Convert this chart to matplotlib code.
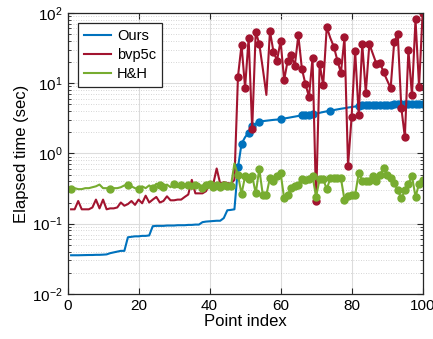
#!/usr/bin/env python
# coding=utf-8
"""
Elapsed time per point index for three solvers (log scale)
"""

import numpy as np
import matplotlib
matplotlib.use('Agg')
import matplotlib.pyplot as plt
from matplotlib.ticker import LogLocator, NullFormatter

#  Point indices
idx = np.arange(1, 101)

#  Elapsed time in seconds
t_ours = [0.0355, 0.0355, 0.0355, 0.0356, 0.0357, 0.0358, 0.0358, 0.036,
          0.036, 0.0362, 0.0365, 0.038, 0.039, 0.040, 0.041, 0.041,
          0.064, 0.065, 0.066, 0.066, 0.067, 0.067, 0.068, 0.092,
          0.093, 0.093, 0.093, 0.094, 0.094, 0.094, 0.095, 0.095,
          0.095, 0.096, 0.096, 0.097, 0.097, 0.105, 0.107, 0.108,
          0.109, 0.11, 0.11, 0.12, 0.155, 0.157, 0.16, 0.63,
          1.37, 1.7, 1.98, 2.46, 2.65, 2.84, 2.88, 2.92,
          2.96, 3.0, 3.03, 3.07, 3.14, 3.2, 3.27, 3.34,
          3.41, 3.48, 3.52, 3.55, 3.58, 3.68, 3.78, 3.88,
          3.97, 4.06, 4.14, 4.23, 4.32, 4.4, 4.49, 4.57,
          4.65, 4.74, 4.85, 4.87, 4.88, 4.9, 4.91, 4.92,
          4.93, 4.95, 4.96, 4.97, 4.98, 5.0, 5.01, 5.02,
          5.04, 5.05, 5.07, 5.1]

t_bvp5c = [0.16, 0.16, 0.21, 0.16, 0.16, 0.16, 0.17, 0.22,
           0.165, 0.22, 0.16, 0.165, 0.165, 0.17, 0.2, 0.18,
           0.19, 0.21, 0.185, 0.22, 0.195, 0.25, 0.2, 0.22,
           0.24, 0.2, 0.21, 0.245, 0.215, 0.215, 0.22, 0.22,
           0.24, 0.26, 0.42, 0.27, 0.27, 0.27, 0.29, 0.36,
           0.36, 0.61, 0.37, 0.39, 0.38, 0.37, 0.42, 12.4,
           35.0, 8.6, 44.0, 2.2, 54.0, 36.0, 16.0, 6.8,
           55.0, 28.0, 21.0, 40.0, 11.0, 21.0, 25.0, 17.6,
           48.0, 16.0, 9.7, 6.4, 23.0, 0.21, 19.0, 9.3,
           63.0, 44.0, 33.0, 21.0, 14.0, 45.0, 0.67, 3.3,
           29.0, 3.5, 36.0, 7.3, 36.0, 26.0, 18.8, 19.6,
           14.3, 11.0, 8.5, 38.6, 50.0, 4.5, 1.7, 29.7,
           6.7, 81.0, 8.9, 98.0]

t_hh = [0.31, 0.32, 0.31, 0.31, 0.32, 0.32, 0.33, 0.34,
        0.36, 0.32, 0.32, 0.31, 0.32, 0.32, 0.33, 0.35,
        0.35, 0.34, 0.32, 0.31, 0.34, 0.32, 0.35, 0.32,
        0.37, 0.35, 0.33, 0.36, 0.33, 0.37, 0.33, 0.36,
        0.34, 0.36, 0.31, 0.35, 0.37, 0.32, 0.35, 0.37,
        0.33, 0.36, 0.33, 0.36, 0.34, 0.34, 0.72, 0.49,
        0.265, 0.47, 0.43, 0.48, 0.27, 0.6, 0.256, 0.256,
        0.45, 0.41, 0.47, 0.53, 0.23, 0.256, 0.32, 0.34,
        0.35, 0.43, 0.42, 0.43, 0.47, 0.243, 0.43, 0.43,
        0.31, 0.44, 0.44, 0.44, 0.44, 0.218, 0.25, 0.26,
        0.256, 0.52, 0.41, 0.41, 0.41, 0.48, 0.4, 0.5,
        0.61, 0.49, 0.44, 0.38, 0.3, 0.23, 0.3, 0.37,
        0.48, 0.24, 0.37, 0.42]

#  Point indices that carry a marker
mark_ours = [48, 49, 51, 52, 54, 60, 66, 67, 68, 69, 74, 82] + \
    list(range(83, 101))
mark_bvp5c = [48, 49, 50, 51, 52, 53, 54] + list(range(57, 74)) + \
    list(range(75, 86)) + [87, 88, 89] + list(range(91, 101))
mark_hh = [1, 12, 17, 20, 24, 26, 27, 30, 32, 34, 36] + \
    list(range(38, 47)) + list(range(48, 101))

series = [('Ours', t_ours, mark_ours, '#0072BD'),
          ('bvp5c', t_bvp5c, mark_bvp5c, '#A2142F'),
          ('H&H', t_hh, mark_hh, '#77AC30')]

plt.rcParams['font.family'] = ['Liberation Sans', 'DejaVu Sans']
plt.rcParams['mathtext.fontset'] = 'custom'
plt.rcParams['mathtext.rm'] = 'Liberation Sans'
plt.rcParams['mathtext.it'] = 'Liberation Sans:italic'

ax_col = '#262626'

fig = plt.figure(figsize=(4.33, 3.39), dpi=100)
ax = fig.add_axes([0.156, 0.133, 0.82, 0.829])

for (name, vals, marks, col) in series:
    x = idx[:len(vals)]
    ev = [m - 1 for m in marks if m - 1 < len(vals)]
    ax.plot(x, vals, color=col, lw=1.5, label=name,
            marker='o', markersize=5, markevery=ev)

ax.set_yscale('log')
ax.set_xlim(0, 100)
ax.set_ylim(1e-2, 1e2)
ax.set_xticks(np.arange(0, 101, 20))
ax.yaxis.set_major_locator(LogLocator(base=10, numticks=10))
ax.yaxis.set_minor_locator(LogLocator(base=10, subs=np.arange(2, 10),
                                      numticks=20))
ax.yaxis.set_minor_formatter(NullFormatter())

ax.grid(True, which='major', color='#dcdcdc', lw=0.8, ls='-')
ax.grid(True, which='minor', axis='y', color='#c8c8c8', lw=0.6,
        ls=(0, (1, 2)))
ax.set_axisbelow(True)

ax.tick_params(which='both', direction='in', top=True, right=True,
               colors=ax_col, labelcolor='black', labelsize=11)
ax.tick_params(which='major', length=4)
ax.tick_params(which='minor', length=2)
for sp in ax.spines.values():
    sp.set_color(ax_col)
    sp.set_linewidth(0.9)

ax.set_xlabel('Point index', fontsize=12, labelpad=1)
ax.set_ylabel('Elapsed time (sec)', fontsize=12, labelpad=2)

leg = ax.legend(loc='upper left', fontsize=10.5, fancybox=False,
                edgecolor=ax_col, framealpha=1, borderaxespad=0.7,
                handlelength=1.9, handletextpad=0.4, borderpad=0.4,
                labelspacing=0.35, markerscale=0)
leg.get_frame().set_linewidth(0.9)
for h in leg.get_lines():
    h.set_marker('')

fig.savefig('out.png', dpi=100)
